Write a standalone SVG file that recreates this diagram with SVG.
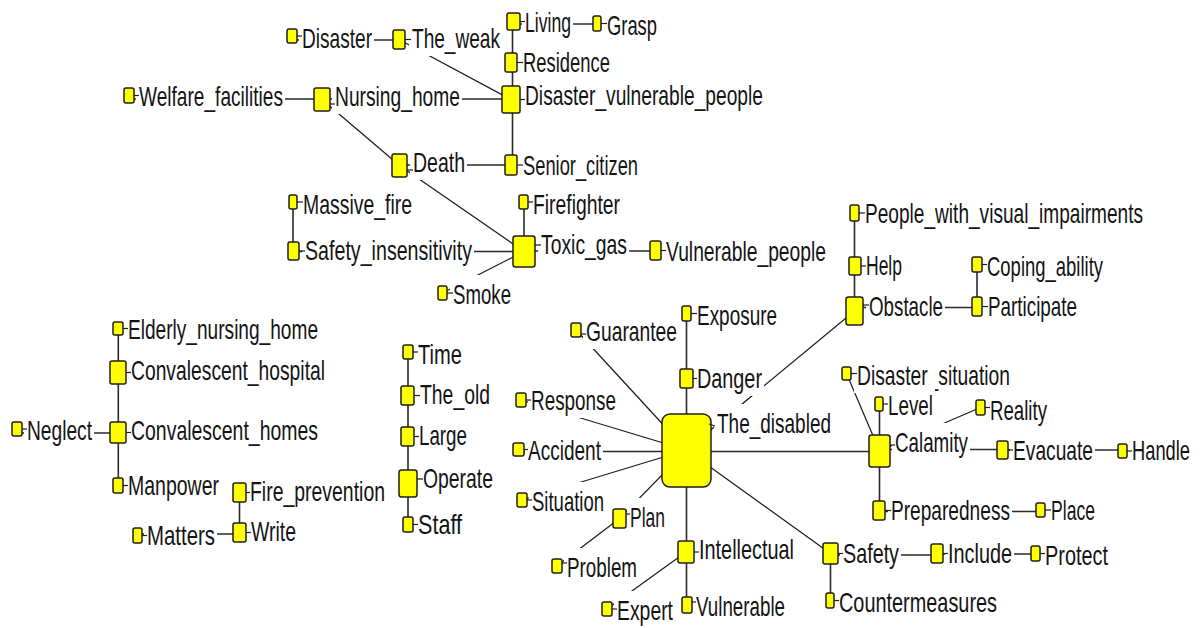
<svg xmlns="http://www.w3.org/2000/svg" width="1200" height="628" viewBox="0 0 1200 628">
<style>
.e{stroke:#2a2a2a;stroke-width:1.6;fill:none}
.d{stroke:#1a1a1a;stroke-width:1.2;fill:none}
.lb{fill:#ffffff}
.b{fill:#ffff00;stroke:#1e1e1e;stroke-width:1.5}
.k{stroke:#1e1e1e;stroke-width:1.2}
.t{font-family:"Liberation Sans",Arial,sans-serif;font-size:28px;fill:#141414}
</style>
<rect width="1200" height="628" fill="#ffffff"/>
<g id="edges">
<path class="e" d="M297 40H393"/>
<path class="d" d="M399 39.5L511 99.5"/>
<path class="e" d="M134 99H314"/>
<path class="e" d="M330 99H502"/>
<path class="d" d="M322 99.5L399.5 165.5"/>
<path class="e" d="M520 24H593"/>
<path class="e" d="M512.5 30V53M512.5 72V86M512.5 113V155"/>
<path class="e" d="M407 165H505"/>
<path class="d" d="M399.5 165.5L524 251.5"/>
<path class="e" d="M293 209V242"/>
<path class="e" d="M299 251.5H513"/>
<path class="e" d="M524 209V236"/>
<path class="e" d="M535 251H650"/>
<path class="d" d="M442.5 293L524 251.5"/>
<path class="e" d="M686.5 321V369M686.5 388V414"/>
<path class="d" d="M686.5 450L854.5 311"/>
<path class="d" d="M576 330L686.5 450"/>
<path class="d" d="M521 400L686.5 450"/>
<path class="e" d="M524 451.5H662"/>
<path class="d" d="M522 500L686.5 450"/>
<path class="d" d="M619.5 518.5L686.5 450"/>
<path class="d" d="M557 566L619.5 518.5"/>
<path class="e" d="M686.5 487V541M686.5 563V597"/>
<path class="d" d="M607 609L686 552"/>
<path class="d" d="M686.5 450L830.5 553.5"/>
<path class="e" d="M830.5 564V593"/>
<path class="e" d="M838 555H931"/>
<path class="e" d="M943 554H1031"/>
<path class="e" d="M711 451.5H869"/>
<path class="e" d="M879.5 411V435M879.5 467V501"/>
<path class="d" d="M846.5 373.5L879.5 451"/>
<path class="d" d="M879.5 451L980.5 407.5"/>
<path class="e" d="M890 449.5H997"/>
<path class="e" d="M1008 450H1118"/>
<path class="e" d="M885 511.5H1036"/>
<path class="e" d="M854.5 221V257M854.5 275V297"/>
<path class="e" d="M863 307.5H972"/>
<path class="e" d="M977 272V297"/>
<path class="e" d="M118.3 335V361M118.3 384V422M118.3 443V478"/>
<path class="e" d="M22 433H110"/>
<path class="e" d="M239.5 502V523"/>
<path class="e" d="M142 534H233"/>
<path class="e" d="M408 359V386M408 405V427M408 446V470M408 497V517"/>
</g>
<g id="n-Disaster"><rect class="lb" x="299" y="19" width="75" height="37"/><rect class="b" x="287" y="29" width="10" height="14" rx="2"/><path class="k" d="M297 36h5"/><text class="t" x="302" y="48" textLength="70" lengthAdjust="spacingAndGlyphs">Disaster</text></g>
<g id="n-The_weak"><rect class="lb" x="409" y="19" width="93" height="37"/><rect class="b" x="393" y="30" width="12" height="19" rx="2"/><path class="k" d="M405 39.5h6"/><text class="t" x="412" y="48" textLength="88" lengthAdjust="spacingAndGlyphs">The_weak</text></g>
<g id="n-Welfare_facilities"><rect class="lb" x="136" y="77" width="149" height="37"/><rect class="b" x="124" y="88" width="10" height="15" rx="2"/><path class="k" d="M134 95.5h5"/><text class="t" x="139" y="106" textLength="144" lengthAdjust="spacingAndGlyphs">Welfare_facilities</text></g>
<g id="n-Nursing_home"><rect class="lb" x="332" y="77" width="130" height="37"/><rect class="b" x="314" y="88" width="16" height="23" rx="2"/><path class="k" d="M330 104h5"/><text class="t" x="335" y="106" textLength="125" lengthAdjust="spacingAndGlyphs">Nursing_home</text></g>
<g id="n-Death"><rect class="lb" x="410" y="143" width="57" height="37"/><rect class="b" x="392" y="154" width="15" height="23" rx="2"/><path class="k" d="M407 170h6"/><text class="t" x="413" y="172" textLength="52" lengthAdjust="spacingAndGlyphs">Death</text></g>
<g id="n-Living"><rect class="lb" x="522" y="3" width="51" height="37"/><rect class="b" x="507" y="13" width="13" height="17" rx="2"/><path class="k" d="M520 21.5h5"/><text class="t" x="525" y="32" textLength="46" lengthAdjust="spacingAndGlyphs">Living</text></g>
<g id="n-Grasp"><rect class="lb" x="604" y="6" width="55" height="37"/><rect class="b" x="593" y="16" width="8" height="15" rx="2"/><path class="k" d="M601 23.5h6"/><text class="t" x="607" y="35" textLength="50" lengthAdjust="spacingAndGlyphs">Grasp</text></g>
<g id="n-Residence"><rect class="lb" x="520" y="43" width="92" height="37"/><rect class="b" x="505" y="53" width="12" height="19" rx="2"/><path class="k" d="M517 62.5h6"/><text class="t" x="523" y="72" textLength="87" lengthAdjust="spacingAndGlyphs">Residence</text></g>
<g id="n-Disaster_vulnerable_people"><rect class="lb" x="522" y="76" width="243" height="37"/><rect class="b" x="502" y="86" width="18" height="27" rx="2"/><path class="k" d="M520 99.5h5"/><text class="t" x="525" y="105" textLength="238" lengthAdjust="spacingAndGlyphs">Disaster_vulnerable_people</text></g>
<g id="n-Senior_citizen"><rect class="lb" x="520" y="146" width="120" height="37"/><rect class="b" x="505" y="155" width="12" height="20" rx="2"/><path class="k" d="M517 165h6"/><text class="t" x="523" y="175" textLength="115" lengthAdjust="spacingAndGlyphs">Senior_citizen</text></g>
<g id="n-Massive_fire"><rect class="lb" x="300" y="185" width="114" height="37"/><rect class="b" x="289" y="195" width="8" height="14" rx="2"/><path class="k" d="M297 202h6"/><text class="t" x="303" y="214" textLength="109" lengthAdjust="spacingAndGlyphs">Massive_fire</text></g>
<g id="n-Safety_insensitivity"><rect class="lb" x="302" y="231" width="172" height="37"/><rect class="b" x="288" y="242" width="11" height="18" rx="2"/><path class="k" d="M299 251h6"/><text class="t" x="305" y="260" textLength="167" lengthAdjust="spacingAndGlyphs">Safety_insensitivity</text></g>
<g id="n-Firefighter"><rect class="lb" x="530" y="185" width="92" height="37"/><rect class="b" x="519" y="195" width="9" height="14" rx="2"/><path class="k" d="M528 202h5"/><text class="t" x="533" y="214" textLength="87" lengthAdjust="spacingAndGlyphs">Firefighter</text></g>
<g id="n-Toxic_gas"><rect class="lb" x="538" y="225" width="91" height="37"/><rect class="b" x="513" y="236" width="22" height="31" rx="2.5"/><path class="k" d="M535 245h6"/><text class="t" x="541" y="254" textLength="86" lengthAdjust="spacingAndGlyphs">Toxic_gas</text></g>
<g id="n-Vulnerable_people"><rect class="lb" x="663" y="232" width="165" height="37"/><rect class="b" x="650" y="241" width="11" height="19" rx="2"/><path class="k" d="M661 250.5h5"/><text class="t" x="666" y="261" textLength="160" lengthAdjust="spacingAndGlyphs">Vulnerable_people</text></g>
<g id="n-Smoke"><rect class="lb" x="450" y="275" width="63" height="37"/><rect class="b" x="438" y="286" width="9" height="14" rx="2"/><path class="k" d="M447 293h6"/><text class="t" x="453" y="304" textLength="58" lengthAdjust="spacingAndGlyphs">Smoke</text></g>
<g id="n-The_disabled"><rect class="lb" x="714" y="404" width="119" height="37"/><rect class="b" x="662" y="414" width="49" height="73" rx="8"/><path class="k" d="M709 424l6 2"/><text class="t" x="717" y="433" textLength="114" lengthAdjust="spacingAndGlyphs">The_disabled</text></g>
<g id="n-Accident"><rect class="lb" x="525" y="431" width="78" height="37"/><rect class="b" x="513" y="443" width="11" height="13" rx="2"/><path class="k" d="M524 449.5h4"/><text class="t" x="528" y="460" textLength="73" lengthAdjust="spacingAndGlyphs">Accident</text></g>
<g id="n-Situation"><rect class="lb" x="529" y="482" width="77" height="37"/><rect class="b" x="517" y="493" width="10" height="14" rx="2"/><path class="k" d="M527 500h5"/><text class="t" x="532" y="511" textLength="72" lengthAdjust="spacingAndGlyphs">Situation</text></g>
<g id="n-Plan"><rect class="lb" x="627" y="498" width="40" height="37"/><rect class="b" x="613" y="509" width="13" height="19" rx="2"/><path class="k" d="M626 514h4"/><text class="t" x="630" y="527" textLength="35" lengthAdjust="spacingAndGlyphs">Plan</text></g>
<g id="n-Problem"><rect class="lb" x="564" y="548" width="75" height="37"/><rect class="b" x="552" y="559" width="10" height="14" rx="2"/><path class="k" d="M562 563h5"/><text class="t" x="567" y="577" textLength="70" lengthAdjust="spacingAndGlyphs">Problem</text></g>
<g id="n-Intellectual"><rect class="lb" x="696" y="530" width="100" height="37"/><rect class="b" x="678" y="541" width="16" height="22" rx="2"/><path class="k" d="M694 552h5"/><text class="t" x="699" y="559" textLength="95" lengthAdjust="spacingAndGlyphs">Intellectual</text></g>
<g id="n-Expert"><rect class="lb" x="614" y="591" width="61" height="37"/><rect class="b" x="602" y="602" width="10" height="14" rx="2"/><path class="k" d="M612 609h5"/><text class="t" x="617" y="620" textLength="56" lengthAdjust="spacingAndGlyphs">Expert</text></g>
<g id="n-Vulnerable"><rect class="lb" x="693" y="587" width="94" height="37"/><rect class="b" x="682" y="597" width="10" height="16" rx="2"/><path class="k" d="M692 602h4"/><text class="t" x="696" y="616" textLength="89" lengthAdjust="spacingAndGlyphs">Vulnerable</text></g>
<g id="n-Safety"><rect class="lb" x="840" y="534" width="61" height="37"/><rect class="b" x="823" y="543" width="15" height="21" rx="2"/><path class="k" d="M838 553.5h5"/><text class="t" x="843" y="563" textLength="56" lengthAdjust="spacingAndGlyphs">Safety</text></g>
<g id="n-Countermeasures"><rect class="lb" x="836" y="583" width="163" height="37"/><rect class="b" x="826" y="593" width="8" height="15" rx="2"/><path class="k" d="M834 600.5h5"/><text class="t" x="839" y="612" textLength="158" lengthAdjust="spacingAndGlyphs">Countermeasures</text></g>
<g id="n-Calamity"><rect class="lb" x="892" y="423" width="78" height="37"/><rect class="b" x="869" y="435" width="21" height="32" rx="2.5"/><path class="k" d="M890 445h5"/><text class="t" x="895" y="452" textLength="73" lengthAdjust="spacingAndGlyphs">Calamity</text></g>
<g id="n-Evacuate"><rect class="lb" x="1010" y="431" width="85" height="37"/><rect class="b" x="997" y="441" width="11" height="18" rx="2"/><path class="k" d="M1008 450h5"/><text class="t" x="1013" y="460" textLength="80" lengthAdjust="spacingAndGlyphs">Evacuate</text></g>
<g id="n-Handle"><rect class="lb" x="1129" y="431" width="63" height="37"/><rect class="b" x="1118" y="444" width="9" height="14" rx="2"/><path class="k" d="M1127 451h5"/><text class="t" x="1132" y="460" textLength="58" lengthAdjust="spacingAndGlyphs">Handle</text></g>
<g id="n-Disaster_situation"><rect class="lb" x="854" y="356" width="158" height="37"/><rect class="b" x="842" y="367" width="9" height="13" rx="2"/><path class="k" d="M851 373.5h6"/><text class="t" x="857" y="385" textLength="153" lengthAdjust="spacingAndGlyphs">Disaster_situation</text></g>
<g id="n-Level"><rect class="lb" x="885" y="386" width="50" height="37"/><rect class="b" x="875" y="397" width="8" height="14" rx="2"/><path class="k" d="M883 404h5"/><text class="t" x="888" y="415" textLength="45" lengthAdjust="spacingAndGlyphs">Level</text></g>
<g id="n-Reality"><rect class="lb" x="987" y="391" width="62" height="37"/><rect class="b" x="976" y="400" width="9" height="15" rx="2"/><path class="k" d="M985 407.5h5"/><text class="t" x="990" y="420" textLength="57" lengthAdjust="spacingAndGlyphs">Reality</text></g>
<g id="n-Preparedness"><rect class="lb" x="888" y="491" width="124" height="37"/><rect class="b" x="873" y="501" width="12" height="19" rx="2"/><path class="k" d="M885 510.5h6"/><text class="t" x="891" y="520" textLength="119" lengthAdjust="spacingAndGlyphs">Preparedness</text></g>
<g id="n-Place"><rect class="lb" x="1048" y="491" width="49" height="37"/><rect class="b" x="1036" y="503" width="9" height="14" rx="2"/><path class="k" d="M1045 510h6"/><text class="t" x="1051" y="520" textLength="44" lengthAdjust="spacingAndGlyphs">Place</text></g>
<g id="n-Include"><rect class="lb" x="945" y="534" width="69" height="37"/><rect class="b" x="931" y="544" width="12" height="19" rx="2"/><path class="k" d="M943 553.5h5"/><text class="t" x="948" y="563" textLength="64" lengthAdjust="spacingAndGlyphs">Include</text></g>
<g id="n-Protect"><rect class="lb" x="1042" y="536" width="68" height="37"/><rect class="b" x="1031" y="546" width="9" height="15" rx="2"/><path class="k" d="M1040 553.5h5"/><text class="t" x="1045" y="565" textLength="63" lengthAdjust="spacingAndGlyphs">Protect</text></g>
<g id="n-People_with_visual_impairments"><rect class="lb" x="862" y="194" width="283" height="37"/><rect class="b" x="850" y="205" width="9" height="16" rx="2"/><path class="k" d="M859 213h6"/><text class="t" x="865" y="223" textLength="278" lengthAdjust="spacingAndGlyphs">People_with_visual_impairments</text></g>
<g id="n-Help"><rect class="lb" x="863" y="246" width="41" height="37"/><rect class="b" x="849" y="257" width="12" height="18" rx="2"/><path class="k" d="M861 266h5"/><text class="t" x="866" y="275" textLength="36" lengthAdjust="spacingAndGlyphs">Help</text></g>
<g id="n-Obstacle"><rect class="lb" x="866" y="287" width="79" height="37"/><rect class="b" x="846" y="297" width="17" height="28" rx="2.5"/><path class="k" d="M863 305h6"/><text class="t" x="869" y="316" textLength="74" lengthAdjust="spacingAndGlyphs">Obstacle</text></g>
<g id="n-Participate"><rect class="lb" x="985" y="287" width="94" height="37"/><rect class="b" x="972" y="297" width="10" height="19" rx="2"/><path class="k" d="M982 306.5h6"/><text class="t" x="988" y="316" textLength="89" lengthAdjust="spacingAndGlyphs">Participate</text></g>
<g id="n-Coping_ability"><rect class="lb" x="984" y="247" width="121" height="37"/><rect class="b" x="972" y="257" width="10" height="15" rx="2"/><path class="k" d="M982 264.5h5"/><text class="t" x="987" y="276" textLength="116" lengthAdjust="spacingAndGlyphs">Coping_ability</text></g>
<g id="n-Exposure"><rect class="lb" x="694" y="296" width="85" height="37"/><rect class="b" x="682" y="306" width="9" height="15" rx="2"/><path class="k" d="M691 313.5h6"/><text class="t" x="697" y="325" textLength="80" lengthAdjust="spacingAndGlyphs">Exposure</text></g>
<g id="n-Danger"><rect class="lb" x="694" y="359" width="70" height="37"/><rect class="b" x="680" y="369" width="13" height="19" rx="2"/><path class="k" d="M693 378.5h4"/><text class="t" x="697" y="388" textLength="65" lengthAdjust="spacingAndGlyphs">Danger</text></g>
<g id="n-Guarantee"><rect class="lb" x="583" y="312" width="96" height="37"/><rect class="b" x="571" y="323" width="10" height="14" rx="2"/><path class="k" d="M581 334h5"/><text class="t" x="586" y="341" textLength="91" lengthAdjust="spacingAndGlyphs">Guarantee</text></g>
<g id="n-Response"><rect class="lb" x="528" y="381" width="90" height="37"/><rect class="b" x="516" y="393" width="10" height="14" rx="2"/><path class="k" d="M526 400h5"/><text class="t" x="531" y="410" textLength="85" lengthAdjust="spacingAndGlyphs">Response</text></g>
<g id="n-Elderly_nursing_home"><rect class="lb" x="125" y="310" width="195" height="37"/><rect class="b" x="113" y="322" width="10" height="13" rx="2"/><path class="k" d="M123 328.5h5"/><text class="t" x="128" y="339" textLength="190" lengthAdjust="spacingAndGlyphs">Elderly_nursing_home</text></g>
<g id="n-Convalescent_hospital"><rect class="lb" x="128" y="351" width="199" height="37"/><rect class="b" x="110" y="361" width="16" height="23" rx="2"/><path class="k" d="M126 372.5h5"/><text class="t" x="131" y="380" textLength="194" lengthAdjust="spacingAndGlyphs">Convalescent_hospital</text></g>
<g id="n-Convalescent_homes"><rect class="lb" x="128" y="411" width="192" height="37"/><rect class="b" x="110" y="422" width="16" height="21" rx="2"/><path class="k" d="M126 432.5h5"/><text class="t" x="131" y="440" textLength="187" lengthAdjust="spacingAndGlyphs">Convalescent_homes</text></g>
<g id="n-Neglect"><rect class="lb" x="24" y="411" width="70" height="37"/><rect class="b" x="12" y="422" width="10" height="14" rx="2"/><path class="k" d="M22 429h5"/><text class="t" x="27" y="440" textLength="65" lengthAdjust="spacingAndGlyphs">Neglect</text></g>
<g id="n-Manpower"><rect class="lb" x="125" y="466" width="96" height="37"/><rect class="b" x="113" y="478" width="10" height="15" rx="2"/><path class="k" d="M123 485.5h5"/><text class="t" x="128" y="495" textLength="91" lengthAdjust="spacingAndGlyphs">Manpower</text></g>
<g id="n-Fire_prevention"><rect class="lb" x="247" y="472" width="140" height="37"/><rect class="b" x="233" y="483" width="13" height="19" rx="2"/><path class="k" d="M246 492.5h4"/><text class="t" x="250" y="501" textLength="135" lengthAdjust="spacingAndGlyphs">Fire_prevention</text></g>
<g id="n-Write"><rect class="lb" x="248" y="512" width="50" height="37"/><rect class="b" x="233" y="523" width="13" height="19" rx="2"/><path class="k" d="M246 532.5h5"/><text class="t" x="251" y="541" textLength="45" lengthAdjust="spacingAndGlyphs">Write</text></g>
<g id="n-Matters"><rect class="lb" x="144" y="516" width="73" height="37"/><rect class="b" x="133" y="528" width="9" height="15" rx="2"/><path class="k" d="M142 535.5h5"/><text class="t" x="147" y="545" textLength="68" lengthAdjust="spacingAndGlyphs">Matters</text></g>
<g id="n-Time"><rect class="lb" x="415" y="335" width="49" height="37"/><rect class="b" x="403" y="345" width="10" height="14" rx="2"/><path class="k" d="M413 352h5"/><text class="t" x="418" y="364" textLength="44" lengthAdjust="spacingAndGlyphs">Time</text></g>
<g id="n-The_old"><rect class="lb" x="417" y="375" width="75" height="37"/><rect class="b" x="401" y="386" width="13" height="19" rx="2"/><path class="k" d="M414 395.5h6"/><text class="t" x="420" y="404" textLength="70" lengthAdjust="spacingAndGlyphs">The_old</text></g>
<g id="n-Large"><rect class="lb" x="416" y="416" width="53" height="37"/><rect class="b" x="401" y="427" width="13" height="19" rx="2"/><path class="k" d="M414 436.5h5"/><text class="t" x="419" y="445" textLength="48" lengthAdjust="spacingAndGlyphs">Large</text></g>
<g id="n-Operate"><rect class="lb" x="420" y="459" width="75" height="37"/><rect class="b" x="399" y="470" width="18" height="27" rx="2.5"/><path class="k" d="M417 479h6"/><text class="t" x="423" y="488" textLength="70" lengthAdjust="spacingAndGlyphs">Operate</text></g>
<g id="n-Staff"><rect class="lb" x="415" y="505" width="49" height="37"/><rect class="b" x="403" y="517" width="10" height="15" rx="2"/><path class="k" d="M413 524.5h5"/><text class="t" x="418" y="534" textLength="44" lengthAdjust="spacingAndGlyphs">Staff</text></g>
</svg>
